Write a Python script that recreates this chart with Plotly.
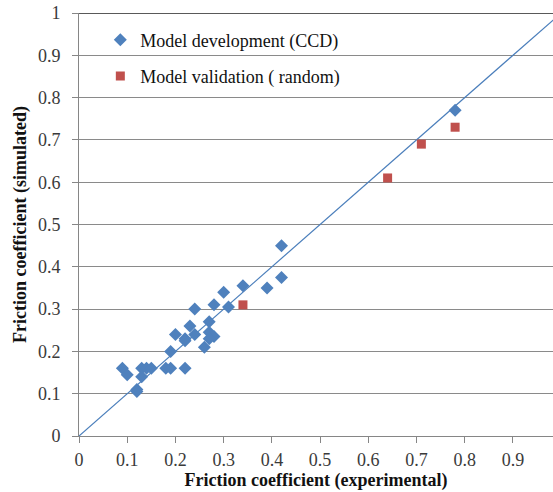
import plotly.graph_objects as go

# Model development points (central composite design)
dev_experimental = [0.42, 0.42, 0.39, 0.34, 0.30, 0.28, 0.31, 0.24, 0.27, 0.23,
                    0.20, 0.24, 0.22, 0.22, 0.27, 0.28, 0.27, 0.26, 0.19, 0.18,
                    0.19, 0.22, 0.13, 0.14, 0.15, 0.13, 0.09, 0.10, 0.12, 0.12,
                    0.78]
dev_simulated = [0.45, 0.375, 0.35, 0.355, 0.34, 0.31, 0.305, 0.30, 0.27, 0.26,
                 0.24, 0.24, 0.23, 0.225, 0.245, 0.235, 0.23, 0.21, 0.20, 0.16,
                 0.16, 0.16, 0.16, 0.16, 0.16, 0.14, 0.16, 0.145, 0.11, 0.105,
                 0.77]

# Model validation points (random runs)
val_experimental = [0.34, 0.64, 0.71, 0.78]
val_simulated = [0.31, 0.61, 0.69, 0.73]

# Line of perfect agreement
ref_line = [0, 1]

tick_vals = [0, 0.1, 0.2, 0.3, 0.4, 0.5, 0.6, 0.7, 0.8, 0.9, 1]
tick_text = ["0", "0.1", "0.2", "0.3", "0.4", "0.5", "0.6", "0.7", "0.8", "0.9", "1"]

SERIF = "Liberation Serif"

fig = go.Figure()

fig.add_trace(go.Scatter(
    x=ref_line, y=ref_line, mode="lines",
    line=dict(color="#4a7ebb", width=1.2),
    showlegend=False, hoverinfo="skip",
))

fig.add_trace(go.Scatter(
    x=dev_experimental, y=dev_simulated, mode="markers",
    name="Model development (CCD)", legendgroup="dev",
    marker=dict(symbol="diamond", size=10, color="#4f81bd"),
))

fig.add_trace(go.Scatter(
    x=val_experimental, y=val_simulated, mode="markers",
    name="Model validation ( random)", legendgroup="val",
    marker=dict(symbol="square", size=9, color="#c0504d"),
))

# dark border line along the top of the plotting area
fig.add_shape(type="line", xref="paper", yref="y", x0=0, x1=1, y0=1, y1=1,
              line=dict(color="#222222", width=1.5), layer="above")

fig.update_layout(
    width=553, height=492,
    margin=dict(l=79, r=0, t=13, b=56),
    paper_bgcolor="white", plot_bgcolor="white",
    font=dict(family=SERIF, size=17, color="#3a3a3a"),
    legend=dict(
        x=0.045, y=0.98, xanchor="left", yanchor="top",
        bgcolor="rgba(0,0,0,0)", font=dict(family=SERIF, size=18, color="#111111"),
        tracegroupgap=10, itemwidth=30,
    ),
    xaxis=dict(
        range=[0, 0.983], tickvals=tick_vals, ticktext=tick_text,
        showgrid=False, zeroline=False,
        showline=True, linecolor="#868686", linewidth=1,
        ticks="outside", ticklen=6, tickcolor="#868686",
        tickfont=dict(family=SERIF, size=18, color="#3a3a3a"),
        ticklabelstandoff=1,
        title=dict(text="<b>Friction coefficient (experimental)</b>",
                   font=dict(family=SERIF, size=18, color="#111111"), standoff=4),
    ),
    yaxis=dict(
        range=[0, 1], tickvals=tick_vals, ticktext=tick_text,
        showgrid=True, gridcolor="#8a8a8a", gridwidth=1, zeroline=False,
        showline=True, linecolor="#868686", linewidth=1,
        ticks="outside", ticklen=6, tickcolor="#868686",
        tickfont=dict(family=SERIF, size=18, color="#3a3a3a"),
        ticklabelstandoff=8,
        title=dict(text="<b>Friction coefficient (simulated)</b>",
                   font=dict(family=SERIF, size=18, color="#111111"), standoff=6),
    ),
)

fig.write_html("out.html")
